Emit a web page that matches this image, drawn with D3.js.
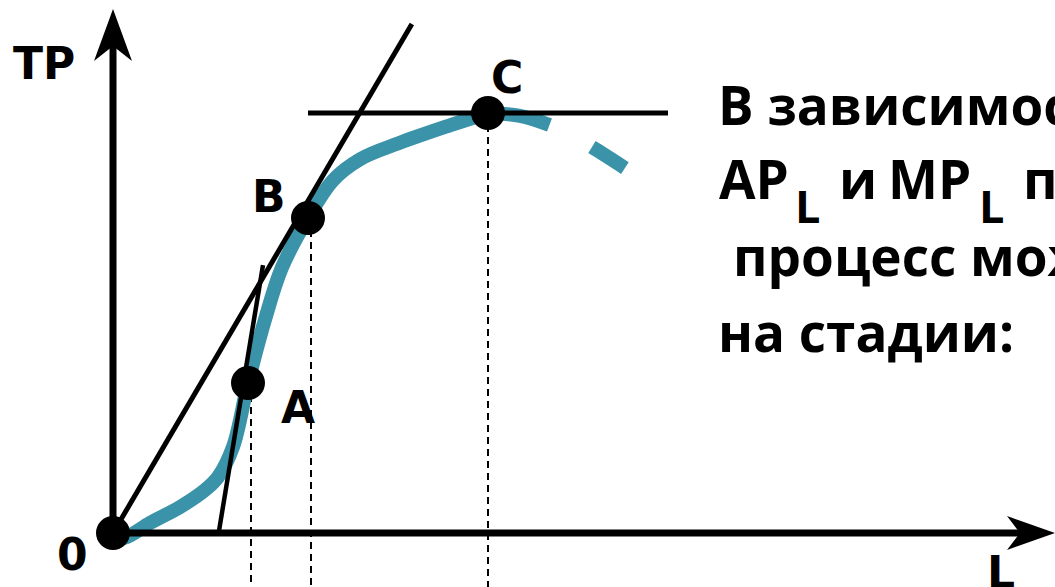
<!DOCTYPE html>
<html>
<head>
<meta charset="utf-8">
<script src="https://cdn.jsdelivr.net/npm/d3@7"></script>
<style>
  html, body { margin: 0; padding: 0; background: #fff; overflow: hidden; }
  svg { display: block; }
</style>
</head>
<body>
<svg id="chart" width="1055" height="587"></svg>
<script>
// ---- data (L units on x, TP units on y) ----
const tpCurveL   = [0, 0.37, 0.99, 1.79, 2.45, 2.8, 3.2, 3.6, 4.05, 4.5, 5.2, 5.87, 6.59, 7.65, 9.0, 10];
const tpCurveTP  = [-1.7, -0.95, 2.4, 6.2, 10.2, 13.3, 20.5, 35.7, 50.7, 63.1, 75, 84, 89, 92.9, 97.1, 100];
const tpTailL    = [10, 10.85, 11.65, 12.2, 12.77, 13.65];
const tpTailTP   = [100, 99.3, 97.1, 94.9, 91.9, 86.9];

const pointNames = ["0", "A", "B", "C"];
const pointL     = [0, 3.6, 5.2, 10];
const pointTP    = [0, 35.7, 75, 100];
const dropL      = [3.68, 5.28, 10];

const rayL  = [0, 7.97];      // line from origin through B
const rayTP = [0, 121.2];
const tanAL  = [2.83, 4.0];   // tangent at A
const tanATP = [0.7, 63.8];
const tanCL  = [5.2, 14.8];   // horizontal tangent at C
const tanCTP = [100, 100];

const axisTitles = ["TP", "L"];
const textLines = [
  [{t: "В зависимости от соотношения"}],
  [{t: "AP"}, {t: "L", sub: true}, {t: "и"}, {t: "MP"}, {t: "L", sub: true}, {t: "производственный"}],
  [{t: "процесс может находиться"}],
  [{t: "на стадии:"}]
];

// ---- scales ----
const x = d3.scaleLinear().domain([0, 10]).range([113, 488]);
const y = d3.scaleLinear().domain([0, 100]).range([533, 113]);
const xMax = 25.12, yMax = 124.76;   // axis extents (arrow tips)
const yBottom = -12.9;

const svg = d3.select("#chart");
const teal = "#3a93a8";

// dashed drop lines
svg.append("g").selectAll("line").data(dropL.map((d, i) => [d, pointTP[i + 1]])).join("line")
  .attr("x1", d => x(d[0])).attr("x2", d => x(d[0]))
  .attr("y1", d => y(d[1])).attr("y2", y(yBottom))
  .attr("stroke", "#000").attr("stroke-width", 2).attr("stroke-dasharray", "7 5");

// TP curve
const line = d3.line().x(d => x(d[0])).y(d => y(d[1])).curve(d3.curveCatmullRom.alpha(0.5));
svg.append("path").datum(tpCurveL.map((d, i) => [d, tpCurveTP[i]]))
  .attr("d", line).attr("fill", "none").attr("stroke", teal).attr("stroke-width", 14);
svg.append("path").datum(tpTailL.map((d, i) => [d, tpTailTP[i]]))
  .attr("d", line).attr("fill", "none").attr("stroke", teal).attr("stroke-width", 14)
  .attr("stroke-dasharray", "63 48 40 1000");

// tangent lines
const segs = [
  {xs: rayL, ys: rayTP, w: 5},
  {xs: tanAL, ys: tanATP, w: 4.5},
  {xs: tanCL, ys: tanCTP, w: 5}
];
svg.append("g").selectAll("line").data(segs).join("line")
  .attr("x1", d => x(d.xs[0])).attr("y1", d => y(d.ys[0]))
  .attr("x2", d => x(d.xs[1])).attr("y2", d => y(d.ys[1]))
  .attr("stroke", "#000").attr("stroke-width", d => d.w);

// axes
const ox = x(0), oy = y(0);
svg.append("line").attr("x1", ox).attr("y1", oy).attr("x2", ox).attr("y2", y(yMax) + 30)
  .attr("stroke", "#000").attr("stroke-width", 7);
svg.append("line").attr("x1", ox).attr("y1", oy).attr("x2", x(xMax) - 30).attr("y2", oy)
  .attr("stroke", "#000").attr("stroke-width", 7);
const ty = y(yMax);
svg.append("path").attr("d", `M${ox},${ty} L${ox + 19},${ty + 52} L${ox},${ty + 37} L${ox - 19},${ty + 52} Z`).attr("fill", "#000");
const tx = x(xMax);
svg.append("path").attr("d", `M${tx},${oy} L${tx - 48},${oy - 17} L${tx - 35},${oy} L${tx - 48},${oy + 17} Z`).attr("fill", "#000");

// points
svg.append("g").selectAll("circle").data(pointL.map((d, i) => [d, pointTP[i]])).join("circle")
  .attr("cx", d => x(d[0])).attr("cy", d => y(d[1])).attr("r", 17).attr("fill", "#000");

// labels
const lblFont = "'DejaVu Sans', sans-serif";
const labelPos = [[57, 570], [281, 423], [252, 212], [491, 93]];
svg.append("g").selectAll("text").data(pointNames).join("text")
  .attr("x", (d, i) => labelPos[i][0]).attr("y", (d, i) => labelPos[i][1])
  .attr("font-family", lblFont).attr("font-weight", "bold").attr("font-size", 44)
  .text(d => d);
svg.append("text").attr("x", 13).attr("y", 79).attr("font-family", lblFont)
  .attr("font-weight", "bold").attr("font-size", 44).text(axisTitles[0]);
svg.append("text").attr("x", 987).attr("y", 588).attr("font-family", lblFont)
  .attr("font-weight", "bold").attr("font-size", 44).text(axisTitles[1]);

// text block
const lineX = [718, 719, 733, 718];
const lineY = [125, 199, 276, 352];
const line2X = [719, 795, 839, 888, 979, 1023];
const tg = svg.append("g").attr("font-family", "'Open Sans', sans-serif").attr("font-weight", 700)
  .attr("font-size", 53).attr("fill", "#000");
textLines.forEach((parts, i) => {
  const t = tg.append("text").attr("x", lineX[i]).attr("y", lineY[i]);
  parts.forEach((p, j) => {
    const ts = t.append("tspan").text(p.t);
    if (parts.length > 1) ts.attr("x", line2X[j]).attr("y", lineY[i] + (p.sub ? 24 : 0));
    if (p.sub) ts.attr("font-size", 45);
  });
});
</script>
</body>
</html>
